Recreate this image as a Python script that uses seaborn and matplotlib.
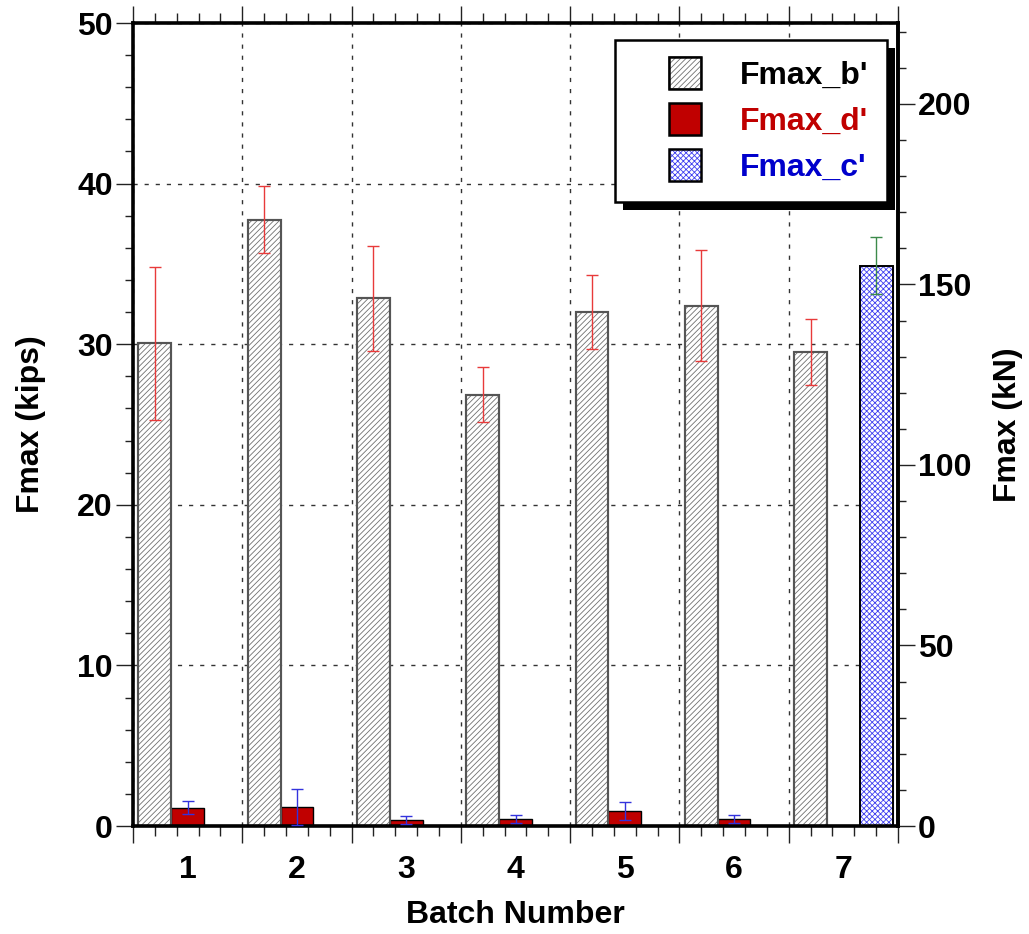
import numpy as np
import pandas as pd
import seaborn as sns
import matplotlib.pyplot as plt
from matplotlib.patches import Patch, Rectangle
from matplotlib.legend_handler import HandlerPatch, HandlerTuple
from matplotlib.ticker import MultipleLocator
from matplotlib.transforms import IdentityTransform

# -----------------------------
# Data (kips)
# -----------------------------
KIPS_TO_KN = 4.448

batches = ["1", "2", "3", "4", "5", "6", "7"]

fmax_b = [30.05, 37.75, 32.85, 26.85, 32.0, 32.4, 29.5]
fmax_b_err = [4.75, 2.1, 3.25, 1.7, 2.3, 3.45, 2.05]

d_batches = ["1", "2", "3", "4", "5", "6"]
fmax_d = [1.15, 1.18, 0.37, 0.43, 0.93, 0.42]
fmax_d_err = [0.4, 1.1, 0.24, 0.25, 0.55, 0.25]

c_batches = ["7"]
fmax_c = [34.9]
fmax_c_err = [1.75]

series = ["Fmax_b'", "Fmax_d'", "Fmax_c'"]
text_colors = ["black", "#C00000", "#0000CC"]
err_colors = ["#E83A3A", "#3333DD", "#3C8A4A"]

df = pd.concat([
    pd.DataFrame({"batch": batches, "fmax": fmax_b, "err": fmax_b_err, "series": series[0]}),
    pd.DataFrame({"batch": d_batches, "fmax": fmax_d, "err": fmax_d_err, "series": series[1]}),
    pd.DataFrame({"batch": c_batches, "fmax": fmax_c, "err": fmax_c_err, "series": series[2]}),
], ignore_index=True)

# -----------------------------
# Style
# -----------------------------
sns.set_style("ticks")
plt.rcParams["font.family"] = ["Liberation Sans", "DejaVu Sans"]
plt.rcParams["font.weight"] = "bold"
plt.rcParams["axes.labelweight"] = "bold"
plt.rcParams["hatch.linewidth"] = 0.6
for key in ["text.color", "axes.labelcolor", "xtick.color", "ytick.color", "axes.edgecolor"]:
    plt.rcParams[key] = "black"

FS = 23

fig = plt.figure(figsize=(10.29, 9.34), dpi=100)
ax = fig.add_axes([133 / 1029, 1 - 826 / 934, 765 / 1029, 803 / 934])

sns.barplot(data=df, x="batch", y="fmax", hue="series", hue_order=series,
            order=batches, width=0.9, dodge=True, errorbar=None, legend=False,
            palette=["white", "#C00000", "white"], ax=ax, zorder=2)

# bar styling + error bars (bars are identified by their dodge offset)
styles = [
    dict(hatch="//////", edgecolor="#707070", linewidth=1.5, face="white"),
    dict(hatch=None, edgecolor="black", linewidth=1.0, face="#C00000"),
    dict(hatch="xxxxxx", edgecolor="#4040F0", linewidth=0.8, face="white"),
]
bars = [p for p in ax.patches if isinstance(p, Rectangle) and p.get_height() > 0]
err_x = {0: [], 1: [], 2: []}
err_y = {0: [], 1: [], 2: []}
err_e = {0: [], 1: [], 2: []}
for p in bars:
    xc = p.get_x() + p.get_width() / 2
    bi = int(round(xc))
    si = int(round((xc - bi) / 0.3)) + 1
    st = styles[si]
    p.set_facecolor(st["face"])
    p.set_edgecolor(st["edgecolor"])
    p.set_linewidth(st["linewidth"])
    if st["hatch"]:
        p.set_hatch(st["hatch"])
    if si == 2:
        ax.add_patch(Rectangle((p.get_x(), p.get_y()), p.get_width(), p.get_height(),
                               fill=False, edgecolor="black", linewidth=1.4, zorder=2.5))
    if si == 0:
        ax.add_patch(Rectangle((p.get_x(), p.get_y()), p.get_width(), p.get_height(),
                               fill=False, edgecolor="#555555", linewidth=1.5, zorder=2.5))
    row = df[(df["series"] == series[si]) & (df["batch"] == batches[bi])].iloc[0]
    err_x[si].append(xc)
    err_y[si].append(row["fmax"])
    err_e[si].append(row["err"])

for si in range(3):
    ax.errorbar(err_x[si], err_y[si], yerr=err_e[si], fmt="none", ecolor=err_colors[si],
                elinewidth=1.0, capsize=4.5, capthick=1.0, zorder=3)

# -----------------------------
# Axes, ticks, grid
# -----------------------------
ax.set_xlim(-0.5, len(batches) - 0.5)
ax.set_ylim(0, 50)
bounds = np.arange(-0.5, len(batches), 1.0)
ax.set_xticks(bounds)
ax.set_xticklabels([])
ax.set_xticks([b + f for b in bounds[:-1] for f in (0.2, 0.4, 0.6, 0.8)], minor=True)
ax.set_yticks(range(0, 51, 10))
ax.yaxis.set_minor_locator(MultipleLocator(2))
ax.tick_params(axis="x", which="both", direction="out", top=True, bottom=True,
               labelbottom=False, width=1.0, color="#222222")
ax.tick_params(axis="x", which="major", length=12.5)
ax.tick_params(axis="x", which="minor", length=7)
ax.tick_params(axis="y", which="both", direction="out", left=True, right=False,
               width=1.0, color="#222222", labelsize=FS, pad=2)
ax.tick_params(axis="y", which="major", length=12.5)
ax.tick_params(axis="y", which="minor", length=6)
ax.grid(True, which="major", linestyle=(0, (3, 5)), color="#333333", linewidth=1.0, zorder=0)
ax.set_axisbelow(True)
for s in ax.spines.values():
    s.set_visible(True)
    s.set_linewidth(2.6)
    s.set_color("black")
ax.set_xlabel("")
ax.set_ylabel("Fmax (kips)", fontsize=FS)
ax.yaxis.set_label_coords(-0.114, 0.5)

sec = ax.secondary_xaxis("bottom")
sec.set_xticks(range(len(batches)), labels=batches)
sec.tick_params(length=0, pad=21, labelsize=FS)
sec.spines["bottom"].set_visible(False)
sec.set_xlabel("Batch Number", fontsize=FS, labelpad=11)

ax2 = ax.twinx()
ax2.set_ylim(0, 50 * KIPS_TO_KN)
ax2.set_yticks(range(0, 201, 50))
ax2.yaxis.set_minor_locator(MultipleLocator(10))
ax2.tick_params(axis="y", which="both", direction="out", width=1.0, color="#222222",
                labelsize=FS, pad=2)
ax2.tick_params(axis="y", which="major", length=12.5)
ax2.tick_params(axis="y", which="minor", length=6)
for k, s in ax2.spines.items():
    s.set_visible(k == "right")
    s.set_linewidth(2.6)
    s.set_color("black")
ax2.set_ylabel("Fmax (kN)", fontsize=FS, rotation=90)
ax2.yaxis.set_label_coords(1.124, 0.5)

# -----------------------------
# Legend with black drop shadow
# -----------------------------
def square_patch(legend, orig_handle, xdescent, ydescent, width, height, fontsize):
    s = fontsize * 1.0
    return Rectangle((-xdescent + width - s, -ydescent + (height - s) / 2), s, s)

handles = [
    (Patch(facecolor="white", edgecolor="#707070", hatch="//////", linewidth=1.2),
     Patch(fill=False, edgecolor="black", linewidth=1.8)),
    (Patch(facecolor="#C00000", edgecolor="black", linewidth=1.8),),
    (Patch(facecolor="white", edgecolor="#4040F0", hatch="xxxxxx", linewidth=0.8),
     Patch(fill=False, edgecolor="black", linewidth=1.8)),
]
leg = ax.legend(handles, series, loc="upper right", bbox_to_anchor=(0.9856, 0.9788),
                borderaxespad=0, prop={"weight": "bold", "size": FS},
                handlelength=2.1, handleheight=1.0, handletextpad=1.2,
                labelspacing=0.43, borderpad=0.59, fancybox=False, framealpha=1,
                edgecolor="black",
                handler_map={Patch: HandlerPatch(patch_func=square_patch),
                             tuple: HandlerTuple(ndivide=1, pad=0)})
leg.get_frame().set_linewidth(1.8)
for t, c in zip(leg.get_texts(), text_colors):
    t.set_color(c)

fig.canvas.draw()
bb = leg.get_frame().get_window_extent()
ax.add_patch(Rectangle((bb.x0 + 8, bb.y0 - 8), bb.width, bb.height, transform=IdentityTransform(),
                       facecolor="black", edgecolor="none", zorder=4.9, clip_on=False))

fig.savefig("out.png", dpi=100)
